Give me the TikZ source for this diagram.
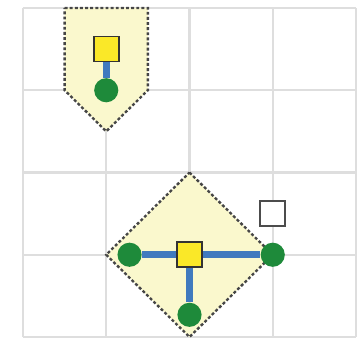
\documentclass[tikz,border=0pt]{standalone}
\definecolor{gdgrid}{RGB}{222,222,222}
\definecolor{gdzone}{RGB}{250,248,205}
\definecolor{gdedge}{RGB}{70,70,70}
\definecolor{gdblue}{RGB}{64,122,190}
\definecolor{gdgreen}{RGB}{30,138,58}
\definecolor{gdyellow}{RGB}{250,232,40}
\tikzset{
  gridline/.style={draw=gdgrid, line width=1.4pt},
  zone/.style={fill=gdzone, draw=gdedge, line width=1.6pt, dash pattern=on 2pt off 1.5pt},
  hub/.style={draw=black!80, fill=gdyellow, line width=1.2pt, minimum size=0.6cm, inner sep=0pt},
  spare/.style={hub, fill=white, draw=black!70},
  knot/.style={circle, fill=gdgreen, minimum size=0.58cm, inner sep=0pt},
  link/.style={draw=gdblue, line width=4.8pt}
}
\begin{document}
\begin{tikzpicture}[x=2cm, y=1.976cm]
  \useasboundingbox (-0.276,-0.024) rectangle (4.048,4.097);
  \foreach \i in {0,...,4} {
    \draw[gridline] (\i,0) -- (\i,4);
    \draw[gridline] (0,\i) -- (4,\i);
  }
  % upper shape
  \draw[zone] (0.5,4) -- (1.5,4) -- (1.5,3) -- (1,2.5) -- (0.5,3) -- cycle;
  \node[knot] (k1) at (1,3)   {};
  \node[hub]  (h1) at (1,3.5) {};
  \draw[link] (h1) -- (k1);
  % lower shape
  \draw[zone] (2,2) -- (3,1) -- (2,0) -- (1,1) -- cycle;
  \node[knot] (kl) at (1.28,1)  {};
  \node[knot] (kr) at (3,1)     {};
  \node[knot] (kb) at (2,0.27)  {};
  \draw[link] (kl) -- (kr);
  \node[hub]  (h2) at (2,1)     {};
  \draw[link] (h2) -- (kb);
  \node[spare] (s) at (3,1.5)   {};
\end{tikzpicture}
\end{document}
